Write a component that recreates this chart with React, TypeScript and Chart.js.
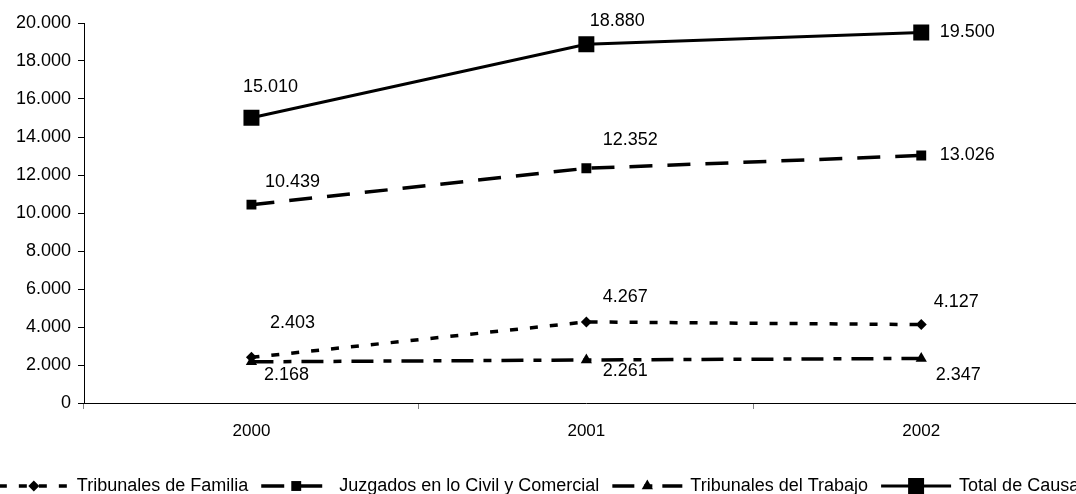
import React, { useEffect, useRef } from 'react';
import { Chart, registerables } from 'chart.js';

Chart.register(...registerables);

const categories = ['2000', '2001', '2002'];
const familia = [2403, 4267, 4127];
const juzgados = [10439, 12352, 13026];
const trabajo = [2168, 2261, 2347];
const total = [15010, 18880, 19500];
const seriesNames = [
  'Tribunales de Familia',
  'Juzgados en lo Civil y Comercial',
  'Tribunales del Trabajo',
  'Total de Causas',
];
const yMin = 0;
const yMax = 20000;
const yStep = 2000;

const FONT = '"Liberation Sans", Arial, sans-serif';
const fmt = (v: number) => String(Math.round(v)).replace(/\B(?=(\d{3})+(?!\d))/g, '.');

function drawMarker(ctx: CanvasRenderingContext2D, style: string, r: number, x: number, y: number) {
  ctx.save();
  ctx.setLineDash([]);
  ctx.fillStyle = '#000';
  ctx.beginPath();
  if (style === 'rect') {
    const s = r * Math.SQRT1_2;
    ctx.rect(x - s, y - s, 2 * s, 2 * s);
  } else if (style === 'rectRot') {
    ctx.moveTo(x, y - r);
    ctx.lineTo(x + r, y);
    ctx.lineTo(x, y + r);
    ctx.lineTo(x - r, y);
    ctx.closePath();
  } else if (style === 'triangle') {
    let a = 0;
    ctx.moveTo(x + Math.sin(a) * r, y - Math.cos(a) * r);
    a += (2 * Math.PI) / 3;
    ctx.lineTo(x + Math.sin(a) * r, y - Math.cos(a) * r);
    a += (2 * Math.PI) / 3;
    ctx.lineTo(x + Math.sin(a) * r, y - Math.cos(a) * r);
    ctx.closePath();
  }
  ctx.fill();
  ctx.restore();
}

const labelPlugin = {
  id: 'valueLabels',
  afterDatasetsDraw(chart: any) {
    const ctx = chart.ctx as CanvasRenderingContext2D;
    ctx.save();
    ctx.font = `18px ${FONT}`;
    ctx.fillStyle = '#000';
    ctx.textAlign = 'center';
    ctx.textBaseline = 'middle';
    chart.data.datasets.forEach((ds: any, di: number) => {
      const meta = chart.getDatasetMeta(di);
      meta.data.forEach((pt: any, i: number) => {
        const off = ds.labelOffsets[i];
        ctx.fillText(fmt(ds.data[i]), pt.x + off[0], pt.y + off[1]);
      });
    });
    ctx.restore();
  },
};

const legendPlugin = {
  id: 'lineLegend',
  afterDraw(chart: any) {
    const ctx = chart.ctx as CanvasRenderingContext2D;
    const lineLen = 70;
    const gapText = 8;
    const gapItem = 13;
    ctx.save();
    ctx.font = `18px ${FONT}`;
    const widths = chart.data.datasets.map((ds: any) => ctx.measureText(ds.label).width);
    const totalW = widths.reduce((a: number, w: number) => a + lineLen + gapText + w, 0) + gapItem * (widths.length - 1);
    let x = 543.5 - totalW / 2;
    const y = 486;
    chart.data.datasets.forEach((ds: any, i: number) => {
      ctx.strokeStyle = '#000';
      ctx.lineWidth = ds.borderWidth;
      ctx.setLineDash(ds.borderDash || []);
      ctx.beginPath();
      ctx.moveTo(x, y);
      ctx.lineTo(x + lineLen, y);
      ctx.stroke();
      drawMarker(ctx, ds.pointStyle, ds.pointRadius, x + lineLen / 2, y);
      ctx.fillStyle = '#000';
      ctx.textAlign = 'left';
      ctx.textBaseline = 'middle';
      ctx.fillText(ds.label, x + lineLen + gapText, y);
      x += lineLen + gapText + widths[i] + gapItem;
    });
    ctx.restore();
  },
};

export default function App() {
  const ref = useRef<HTMLCanvasElement | null>(null);
  useEffect(() => {
    if (!ref.current) return;
    Chart.defaults.font.family = FONT;
    Chart.defaults.font.size = 17;
    Chart.defaults.color = '#000';
    const common = {
      borderColor: '#000',
      backgroundColor: '#000',
      pointBackgroundColor: '#000',
      pointBorderWidth: 0,
      fill: false,
      tension: 0,
      borderCapStyle: 'butt',
    };
    const chart = new Chart(ref.current, {
      type: 'line',
      data: {
        labels: categories,
        datasets: [
          {
            ...common,
            label: seriesNames[0],
            data: familia,
            borderWidth: 3.5,
            borderDash: [8, 12],
            pointStyle: 'rectRot',
            pointRadius: 5.5,
            labelOffsets: [[41, -34], [39, -25], [35, -23]],
          },
          {
            ...common,
            label: seriesNames[1],
            data: juzgados,
            borderWidth: 3.5,
            borderDash: [23, 15],
            pointStyle: 'rect',
            pointRadius: 7,
            labelOffsets: [[41, -23], [44, -28], [46, 0]],
          },
          {
            ...common,
            label: seriesNames[2],
            data: trabajo,
            borderWidth: 3.5,
            borderDash: [22, 10, 8, 10],
            pointStyle: 'triangle',
            pointRadius: 6.5,
            labelOffsets: [[35, 13], [39, 11], [37, 17]],
          },
          {
            ...common,
            label: seriesNames[3],
            data: total,
            borderWidth: 3,
            borderDash: [],
            pointStyle: 'rect',
            pointRadius: 11.3,
            labelOffsets: [[19, -31], [31, -23], [46, 0]],
          },
        ] as any,
      },
      options: {
        responsive: false,
        devicePixelRatio: 1,
        animation: false,
        events: [],
        layout: { padding: { left: 0, right: 8, top: 23, bottom: 0 } },
        plugins: {
          legend: { display: false },
          tooltip: { enabled: false },
          title: { display: false },
        },
        scales: {
          x: {
            type: 'category',
            offset: true,
            grid: {
              display: true,
              drawOnChartArea: false,
              drawTicks: true,
              tickLength: 6,
              color: '#808080',
              offset: true,
            },
            border: { display: true, color: '#000', width: 1 },
            ticks: { padding: 12, font: { size: 17, family: FONT }, color: '#000' },
            afterFit: (s: any) => {
              s.height = 91;
            },
          },
          y: {
            min: yMin,
            max: yMax,
            grid: {
              display: true,
              drawOnChartArea: false,
              drawTicks: true,
              tickLength: 6,
              color: '#000',
            },
            border: { display: true, color: '#000', width: 1 },
            ticks: {
              stepSize: yStep,
              padding: 7,
              font: { size: 18, family: FONT },
              color: '#000',
              callback: (v: any) => fmt(Number(v)),
            },
            afterFit: (s: any) => {
              s.width = 84;
            },
          },
        },
      },
      plugins: [labelPlugin, legendPlugin],
    } as any);
    return () => chart.destroy();
  }, []);
  return (
    <div style={{ position: 'fixed', left: 0, top: 0, width: 1100, height: 494, background: '#fff' }}>
      <canvas ref={ref} width={1100} height={494} style={{ display: 'block', width: 1100, height: 494 }} />
    </div>
  );
}
